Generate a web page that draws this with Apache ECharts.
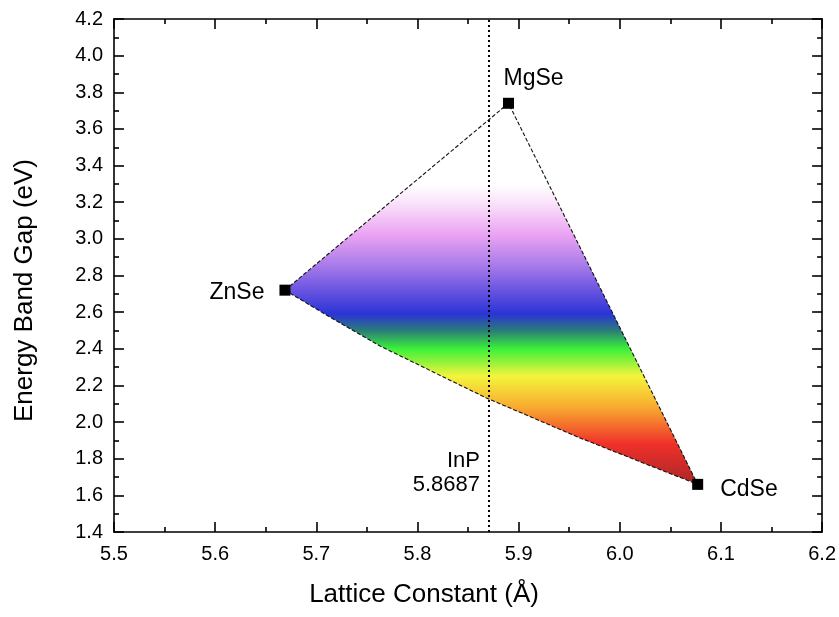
<!DOCTYPE html>
<html>
<head>
<meta charset="utf-8">
<script src="https://cdn.jsdelivr.net/npm/echarts@6/dist/echarts.min.js"></script>
<style>
  html, body { margin: 0; padding: 0; background: #fff; }
  #chart { width: 839px; height: 617px; }
</style>
</head>
<body>
<div id="chart"></div>
<script>
// Binary selenide end members: lattice constant (Å) and band gap (eV)
const compounds = ['ZnSe', 'MgSe', 'CdSe'];
const latticeConst = [5.669, 5.89, 6.077];
const bandGap = [2.72, 3.74, 1.66];

// Bowed ZnCdSe edge between ZnSe and CdSe (intermediate compositions)
const znCdSeLattice = [5.715, 5.763, 5.868, 5.960, 6.030];
const znCdSeGap = [2.568, 2.415, 2.132, 1.915, 1.762];

// InP reference lattice constant
const inpName = 'InP';
const inpLattice = 5.8687;

// Visible-spectrum colour stops, keyed by photon energy (eV)
const spectrumEnergy = [3.30, 3.20, 3.02, 2.86, 2.72, 2.59, 2.50, 2.40, 2.25, 2.08, 1.88, 1.68];
const spectrumColor = ['#ffffff', '#fae4fa', '#eaa2f2', '#aa7cea', '#6a54e0', '#2a34d6',
                       '#2a7c78', '#3cf03a', '#f4f43c', '#f8aa30', '#f0302a', '#b02828'];

const FONT = 'Liberation Sans, Arial, Helvetica, sans-serif';

// Where each compound's name sits around its marker
const labelPlacement = {
  ZnSe: { position: 'left', distance: 12, offset: [-3, 2] },
  MgSe: { position: 'top', distance: 5, offset: [25, -3] },
  CdSe: { position: 'right', distance: 15, offset: [2, 5] }
};
// Anchor of the InP caption, just left of the dotted line
const inpCaptionY = 1.725;

const chart = echarts.init(document.getElementById('chart'), null, { renderer: 'canvas' });

const axisLine = { show: true, onZero: false, lineStyle: { color: '#000', width: 1.6 } };
const majorTick = { show: true, inside: true, length: 10, lineStyle: { color: '#000', width: 1.6 } };
const minorTick = { show: true, splitNumber: 2, length: 5, lineStyle: { color: '#000', width: 1.6 } };
const tickFont = { color: '#000', fontSize: 20, fontFamily: FONT };

// Outline of the alloy region: ZnSe -> MgSe -> CdSe -> back along the ZnCdSe edge
function regionOutline() {
  const pts = [];
  for (let i = 0; i < compounds.length; i++) pts.push([latticeConst[i], bandGap[i]]);
  for (let i = znCdSeLattice.length - 1; i >= 0; i--) pts.push([znCdSeLattice[i], znCdSeGap[i]]);
  return pts;
}

const option = {
  backgroundColor: '#fff',
  animation: false,
  grid: { left: 114, right: 16, top: 19, bottom: 85, containLabel: false },
  xAxis: [
    {
      type: 'value', position: 'bottom', min: 5.5, max: 6.2, interval: 0.1,
      name: 'Lattice Constant (Å)', nameLocation: 'middle', nameGap: 50,
      nameTextStyle: { color: '#000', fontSize: 26, fontFamily: FONT, padding: [0, 88, 0, 0] },
      axisLine, axisTick: majorTick, minorTick,
      axisLabel: { ...tickFont, margin: 12, formatter: v => v.toFixed(1) },
      splitLine: { show: false }
    },
    {
      type: 'value', position: 'top', min: 5.5, max: 6.2, interval: 0.1,
      axisLine, axisTick: majorTick, minorTick,
      axisLabel: { show: false }, splitLine: { show: false }
    }
  ],
  yAxis: [
    {
      type: 'value', position: 'left', min: 1.4, max: 4.2, interval: 0.2,
      name: 'Energy Band Gap (eV)', nameLocation: 'middle', nameGap: 76,
      nameTextStyle: { color: '#000', fontSize: 26, fontFamily: FONT, padding: [0, 30, 0, 0] },
      axisLine, axisTick: majorTick, minorTick,
      axisLabel: { ...tickFont, margin: 11, formatter: v => v.toFixed(1) },
      splitLine: { show: false }
    },
    {
      type: 'value', position: 'right', min: 1.4, max: 4.2, interval: 0.2,
      axisLine, axisTick: majorTick, minorTick,
      axisLabel: { show: false }, splitLine: { show: false }
    }
  ],
  series: [
    {
      // Alloy region coloured by emission wavelength
      type: 'custom',
      coordinateSystem: 'cartesian2d',
      silent: true,
      z: 1,
      data: [[latticeConst[0], bandGap[0]]],
      renderItem: function (params, api) {
        const pts = regionOutline().map(p => api.coord(p));
        const x0 = latticeConst[0];
        const yTop = api.coord([x0, spectrumEnergy[0]])[1];
        const yBot = api.coord([x0, spectrumEnergy[spectrumEnergy.length - 1]])[1];
        const stops = spectrumEnergy.map((e, i) => ({
          offset: (api.coord([x0, e])[1] - yTop) / (yBot - yTop),
          color: spectrumColor[i]
        }));
        return {
          type: 'polygon',
          shape: { points: pts },
          style: {
            fill: new echarts.graphic.LinearGradient(0, yTop, 0, yBot, stops, true),
            stroke: '#111',
            lineWidth: 1.1,
            lineDash: [4, 2]
          }
        };
      }
    },
    {
      // End-member compounds
      type: 'scatter',
      z: 3,
      symbol: 'rect',
      symbolSize: 11,
      itemStyle: { color: '#000', opacity: 1 },
      data: compounds.map((n, i) => ({
        name: n,
        value: [latticeConst[i], bandGap[i]],
        label: {
          show: true,
          formatter: '{b}',
          color: '#000',
          fontSize: 23,
          fontFamily: FONT,
          ...labelPlacement[n]
        }
      })),
      markLine: {
        silent: true,
        symbol: ['none', 'none'],
        label: { show: false },
        lineStyle: { color: '#000', type: [2, 3], width: 2, opacity: 1 },
        data: [{ xAxis: inpLattice }]
      }
    },
    {
      // InP caption
      type: 'scatter',
      z: 3,
      symbolSize: 0,
      silent: true,
      itemStyle: { opacity: 1 },
      data: [[inpLattice, inpCaptionY]],
      label: {
        show: true,
        position: 'left',
        distance: 7,
        align: 'right',
        lineHeight: 24,
        color: '#000',
        fontSize: 22,
        fontFamily: FONT,
        formatter: () => inpName + '\n' + inpLattice.toFixed(4)
      }
    }
  ]
};

chart.setOption(option);
</script>
</body>
</html>
